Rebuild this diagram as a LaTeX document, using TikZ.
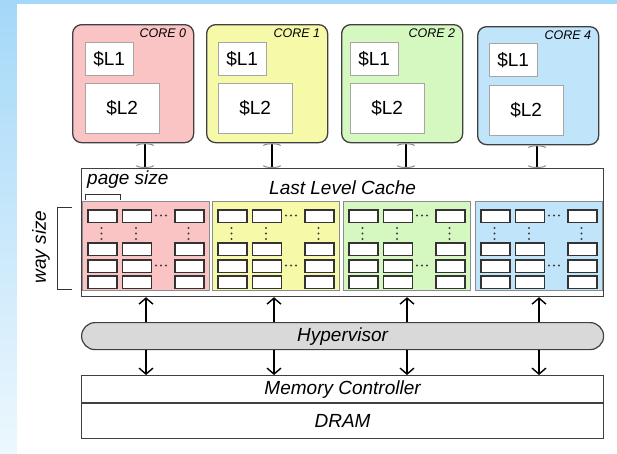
\documentclass[tikz,border=0pt]{standalone}
\usepackage{fontspec}
\setmainfont{Liberation Sans}
\usetikzlibrary{positioning,arrows.meta}
\definecolor{corepink}{RGB}{250,196,196}
\definecolor{coreyellow}{RGB}{246,250,168}
\definecolor{coregreen}{RGB}{212,248,192}
\definecolor{coreblue}{RGB}{192,228,250}
\definecolor{bgblue}{RGB}{164,216,248}

\begin{document}
\begin{tikzpicture}[x=1pt,y=-1pt,
corenode/.style =
  {rectangle,
   draw=black!75, line width=1.3pt,
   rounded corners=9pt, anchor=north west,
   minimum height=118pt, minimum width=121pt},
cachenode/.style =
  {rectangle,
   draw=black!35, fill=white, anchor=north west, inner sep=0pt,
   font=\fontsize{19}{19}\selectfont},
corelabel/.style =
  {anchor=north east, inner sep=0pt,
   font=\fontsize{12.5}{12.5}\selectfont\itshape},
flatnode/.style =
  {rectangle,
   draw=black!75, line width=1.2pt, anchor=north west, inner sep=0pt,
   minimum width=522pt,
   font=\fontsize{19}{19}\selectfont\itshape},
waynode/.style =
  {rectangle,
   draw=black!45, line width=0.8pt, anchor=north west, inner sep=0pt,
   minimum height=89pt, minimum width=127pt},
cellnode/.style =
  {rectangle,
   draw=black!80, fill=white, line width=1.7pt, anchor=north west, inner sep=0pt,
   minimum height=12.5pt, minimum width=29pt},
ibeam/.style={black, line width=2pt,arrows={Arc Barb[width=18pt,length=2.5pt,line width=1pt,color=black!45]-Arc Barb[width=18pt,length=2.5pt,line width=1pt,color=black!45]}},
bus arrow/.style={line width=1.4pt,-{Straight Barb[length=6pt,width=14pt,line width=1.4pt]}}
]
\useasboundingbox (0,0) rectangle (617,453);
%Background
\fill[bgblue] (0,0) rectangle (617,453);
\shade[top color=bgblue, bottom color=bgblue!20] (0,0) rectangle (17,453);
\fill[white] (17,4) rectangle (617,453);

%Cores
\node[corenode,fill=corepink](core0) at (72,24){};
\node[corelabel] at ([xshift=-8pt,yshift=-5pt]core0.north east){CORE 0};
\node[cachenode,minimum width=48pt,minimum height=33pt] (l1-0) at ([xshift=13pt,yshift=-18pt]core0.north west){\$L1};
\node[cachenode,minimum width=74pt,minimum height=50pt] (l2-0) at ([xshift=13pt,yshift=-59pt]core0.north west){\$L2};

\node[corenode,fill=coreyellow](core1) at (206,24){};
\node[corelabel] at ([xshift=-8pt,yshift=-5pt]core1.north east){CORE 1};
\node[cachenode,minimum width=48pt,minimum height=33pt] (l1-1) at ([xshift=12pt,yshift=-18pt]core1.north west){\$L1};
\node[cachenode,minimum width=74pt,minimum height=50pt] (l2-1) at ([xshift=12pt,yshift=-59pt]core1.north west){\$L2};

\node[corenode,fill=coregreen](core2) at (341,24){};
\node[corelabel] at ([xshift=-8pt,yshift=-5pt]core2.north east){CORE 2};
\node[cachenode,minimum width=48pt,minimum height=33pt] (l1-2) at ([xshift=9pt,yshift=-18pt]core2.north west){\$L1};
\node[cachenode,minimum width=74pt,minimum height=50pt] (l2-2) at ([xshift=9pt,yshift=-59pt]core2.north west){\$L2};

\node[corenode,fill=coreblue](core4) at (477,26){};
\node[corelabel] at ([xshift=-8pt,yshift=-5pt]core4.north east){CORE 4};
\node[cachenode,minimum width=48pt,minimum height=33pt] (l1-4) at ([xshift=12pt,yshift=-17pt]core4.north west){\$L1};
\node[cachenode,minimum width=74pt,minimum height=50pt] (l2-4) at ([xshift=12pt,yshift=-59pt]core4.north west){\$L2};

%Last level cache
\node[flatnode,minimum height=128pt](llc) at (81,168){};
\node[anchor=base,inner sep=0pt,font=\fontsize{19}{19}\selectfont\itshape] (llclabel) at ([yshift=-26pt]llc.north){Last Level Cache};
\node[anchor=base west,inner sep=0pt,font=\fontsize{19}{19}\selectfont\itshape] (pagesize) at ([xshift=6pt,yshift=-16pt]llc.north west){page size};
\draw[line width=1pt,black!80] (85,200) -- (85,194) -- (120,194) -- (120,200);

\foreach \g/\x/\col in {0/82/corepink,1/212/coreyellow,2/343/coregreen,3/475/coreblue}{
  \node[waynode,fill=\col](way\g) at (\x,201){};
  \foreach \c/\dx in {1/5,2/39.5,3/92}{
    \foreach \r/\dy in {1/8,2/41,3/58,4/74}
      \node[cellnode](cell\g-\c-\r) at ([xshift=\dx pt,yshift=-\dy pt]way\g.north west){};
    \foreach \dy in {27,32.5,38}
      \fill[black!75] ([xshift=\dx pt+14.5pt,yshift=-\dy pt]way\g.north west) circle (1.2pt);
  }
  \foreach \dy in {14.5,64.5}
    \foreach \dx in {74,79,84}
      \fill[black!75] ([xshift=\dx pt,yshift=-\dy pt]way\g.north west) circle (1.2pt);
}

%way size
\node[rotate=90,inner sep=0pt,font=\fontsize{19}{19}\selectfont\itshape] (waysize) at (41,247){way size};
\draw[line width=1pt,black!80] (72,207) -- (57,207) -- (57,289) -- (72,289);

%Hypervisor and memory
\node[flatnode,fill=black!15,rounded corners=13.5pt,minimum height=27pt](hyp) at (81,322){Hypervisor};
\node[flatnode,minimum height=27pt](mc) at (81,375){Memory Controller};
\node[flatnode,minimum height=35pt](dram) at (mc.south west){DRAM};

%Connections
\coordinate (t0) at (145,0);
\coordinate (t1) at (272,0);
\coordinate (t2) at (406,0);
\coordinate (t3) at (537,0);
\draw[ibeam] (core0.south -| t0) -- (llc.north -| t0);
\draw[ibeam] (core1.south -| t1) -- (llc.north -| t1);
\draw[ibeam] (core2.south -| t2) -- (llc.north -| t2);
\draw[ibeam] (core4.south -| t3) -- (llc.north -| t3);
\foreach \px [count=\k] in {146,274,407,539}{
  \coordinate (p\k) at (\px,0);
  \draw[bus arrow] (hyp.north -| p\k) -- (llc.south -| p\k);
  \draw[bus arrow] (hyp.south -| p\k) -- (mc.north -| p\k);
}
\end{tikzpicture}
\end{document}
